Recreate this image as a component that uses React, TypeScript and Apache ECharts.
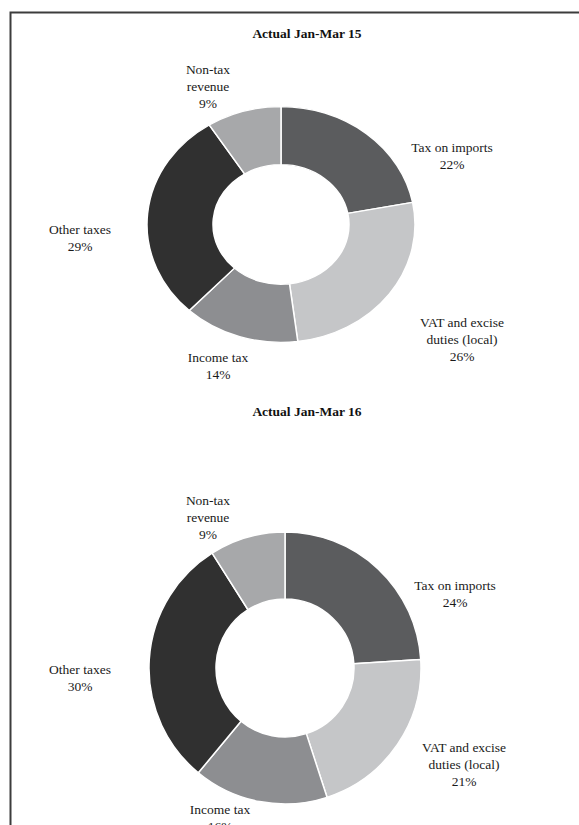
import React, { useEffect, useRef } from "react";
import * as echarts from "echarts";

const categories = ["Tax on imports", "VAT and excise duties (local)", "Income tax", "Other taxes", "Non-tax revenue"];
const labelText = ["Tax on imports", "VAT and excise\nduties (local)", "Income tax", "Other taxes", "Non-tax\nrevenue"];
const values2015 = [22, 26, 14, 29, 9];
const values2016 = [24, 21, 16, 30, 9];
const titles = ["Actual Jan-Mar 15", "Actual Jan-Mar 16"];
const colors = ["#5b5c5e", "#c5c6c8", "#8d8e91", "#303030", "#a7a8aa"];

// label anchor positions (text block centres), px
const labelPos = [
  [[452, 156], [462, 339], [218, 366], [80, 238], [208, 86]],
  [[455, 594], [464, 764], [220, 818], [80, 678], [208, 517]],
];

// the first chart in the source is squeezed vertically
const SQUEEZE = 0.88;

const FONT = "'Liberation Serif', 'Times New Roman', serif";

function pieSeries(vals: number[], idx: number, center: number[], radius: number[], opts: { ring: boolean; labels: boolean }) {
  return {
    type: "pie",
    name: titles[idx],
    center,
    radius,
    startAngle: 90,
    clockwise: true,
    avoidLabelOverlap: false,
    silent: true,
    data: categories.map((c, i) => ({
      name: c,
      value: vals[i],
      itemStyle: { color: opts.ring ? colors[i] : "rgba(0,0,0,0)" },
    })),
    itemStyle: opts.ring ? { borderColor: "#ffffff", borderWidth: 1.5 } : { borderWidth: 0 },
    label: {
      show: opts.labels,
      position: "outside",
      formatter: (p: any) => `${labelText[p.dataIndex]}\n${p.value}%`,
      fontFamily: FONT,
      fontSize: 13.5,
      lineHeight: 17,
      color: "#1a1a1a",
      align: "center",
    },
    labelLine: { show: false },
    labelLayout: (p: any) => {
      const pos = labelPos[idx][p.dataIndex];
      return { x: pos[0], y: pos[1], align: "center", verticalAlign: "middle" };
    },
    emphasis: { disabled: true },
  };
}

export default function App() {
  const mainRef = useRef<HTMLDivElement>(null);
  const ringRef = useRef<HTMLDivElement>(null);
  useEffect(() => {
    document.body.style.margin = "0";
    const main = echarts.init(mainRef.current!, null, { renderer: "svg" });
    const ring = echarts.init(ringRef.current!, null, { renderer: "svg" });
    const titleStyle = { fontFamily: FONT, fontSize: 13.5, fontWeight: "bold", color: "#111" };
    main.setOption({
      animation: false,
      backgroundColor: "#ffffff",
      title: [
        { text: titles[0], left: 302, top: 21, textAlign: "center", textStyle: titleStyle },
        { text: titles[1], left: 302, top: 399, textAlign: "center", textStyle: titleStyle },
      ],
      graphic: [
        { type: "polyline", shape: { points: [[10.5, 825], [10.5, 12.5], [579, 12.5]] }, style: { stroke: "#3c3c3c", lineWidth: 2, fill: "none" }, silent: true },
      ],
      series: [
        pieSeries(values2015, 0, [281, 224], [68, 134], { ring: false, labels: true }),
        pieSeries(values2016, 1, [285, 668], [69, 136], { ring: true, labels: true }),
      ],
    });
    // first doughnut, drawn in a layer squeezed vertically
    ring.setOption({
      animation: false,
      series: [pieSeries(values2015, 0, [281, 224.5 / SQUEEZE], [68, 134], { ring: true, labels: false })],
    });
    return () => {
      main.dispose();
      ring.dispose();
    };
  }, []);
  return (
    <div style={{ position: "relative", width: 579, height: 825, overflow: "hidden" }}>
      <div ref={mainRef} style={{ position: "absolute", left: 0, top: 0, width: 579, height: 825 }} />
      <div
        ref={ringRef}
        style={{
          position: "absolute",
          left: 0,
          top: 0,
          width: 579,
          height: 420,
          transform: `scaleY(${SQUEEZE})`,
          transformOrigin: "0 0",
          pointerEvents: "none",
        }}
      />
    </div>
  );
}
